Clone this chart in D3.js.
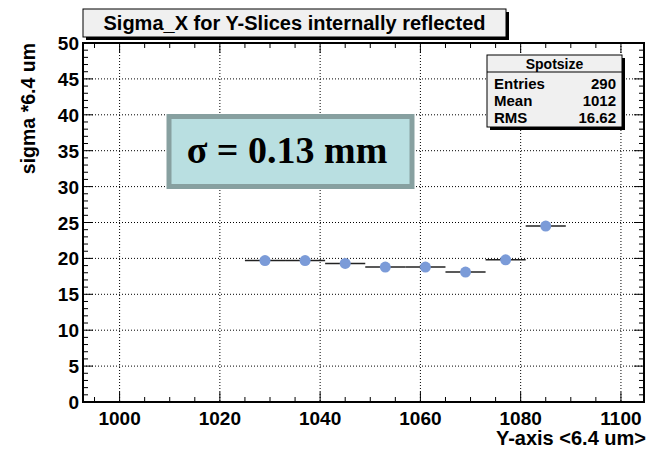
<script src="https://cdn.jsdelivr.net/npm/d3@7"></script>
<body style="margin:0;background:#fff">
<script>
    // data
    var binCenters = [1029, 1037, 1045, 1053, 1061, 1069, 1077, 1085];
    var binWidth = 8;
    var sigmaValues = [19.7, 19.7, 19.3, 18.8, 18.8, 18.1, 19.8, 24.5];
    var xTicks = [1000, 1020, 1040, 1060, 1080, 1100];
    var yTicks = [0, 5, 10, 15, 20, 25, 30, 35, 40, 45, 50];
    var statsRows = [["Entries", "290"], ["Mean", "1012"], ["RMS", "16.62"]];

    var W = 650, H = 449;
    var L = 83, R = 644, T = 43, B = 402;
    var font = "'Liberation Sans', Arial, sans-serif";

    var svg = d3.select("body").append("svg")
        .attr("width", W).attr("height", H)
        .style("display", "block");

    var x = d3.scaleLinear().domain([992.7, 1104.6]).range([L, R]);
    var y = d3.scaleLinear().domain([0, 50]).range([B, T]);

    // frame background
    svg.append("rect").attr("x", L).attr("y", T).attr("width", R - L).attr("height", B - T)
        .attr("fill", "#fff");

    // grid
    svg.selectAll(".gx").data(xTicks).enter().append("line")
        .attr("x1", d => x(d)).attr("x2", d => x(d)).attr("y1", T).attr("y2", B)
        .attr("stroke", "#000").attr("stroke-width", 1).attr("stroke-dasharray", "1,2");
    svg.selectAll(".gy").data(yTicks.slice(1, -1)).enter().append("line")
        .attr("x1", L).attr("x2", R).attr("y1", d => y(d)).attr("y2", d => y(d))
        .attr("stroke", "#000").attr("stroke-width", 1).attr("stroke-dasharray", "1,2");

    // ticks (all four sides, drawn inward)
    var xMinor = d3.range(995, 1105, 5);
    var yMinor = d3.range(0, 51, 1);
    var tickG = svg.append("g").attr("stroke", "#000").attr("stroke-width", 1);
    xMinor.forEach(function (v) {
        var len = (v % 20 === 0) ? 10 : 5;
        tickG.append("line").attr("x1", x(v)).attr("x2", x(v)).attr("y1", B).attr("y2", B - len);
        tickG.append("line").attr("x1", x(v)).attr("x2", x(v)).attr("y1", T).attr("y2", T + len);
    });
    yMinor.forEach(function (v) {
        var len = (v % 5 === 0) ? 10 : 5;
        tickG.append("line").attr("x1", L).attr("x2", L + len).attr("y1", y(v)).attr("y2", y(v));
        tickG.append("line").attr("x1", R).attr("x2", R - len).attr("y1", y(v)).attr("y2", y(v));
    });

    // frame
    svg.append("rect").attr("x", L).attr("y", T).attr("width", R - L).attr("height", B - T)
        .attr("fill", "none").attr("stroke", "#000").attr("stroke-width", 2);

    // tick labels
    svg.selectAll(".xl").data(xTicks).enter().append("text")
        .attr("x", d => x(d)).attr("y", 425)
        .attr("text-anchor", "middle")
        .style("font", "bold 19px " + font)
        .text(d => d);
    svg.selectAll(".yl").data(yTicks).enter().append("text")
        .attr("x", 79).attr("y", d => y(d) + 7)
        .attr("text-anchor", "end")
        .style("font", "bold 19px " + font)
        .text(d => d);

    // axis titles
    svg.append("text").attr("x", R + 2).attr("y", 445)
        .attr("text-anchor", "end")
        .style("font", "bold 20px " + font)
        .text("Y-axis <6.4 um>");
    svg.append("text")
        .attr("transform", "translate(35," + T + ") rotate(-90)")
        .attr("text-anchor", "end")
        .style("font", "bold 19.5px " + font)
        .text("sigma *6.4 um");

    // error bars + markers
    var pts = binCenters.map((c, i) => ({c: c, v: sigmaValues[i]}));
    svg.selectAll(".eb").data(pts).enter().append("line")
        .attr("x1", d => x(d.c - binWidth / 2)).attr("x2", d => x(d.c + binWidth / 2))
        .attr("y1", d => y(d.v)).attr("y2", d => y(d.v))
        .attr("stroke", "#222").attr("stroke-width", 1.5);
    svg.selectAll(".pt").data(pts).enter().append("circle")
        .attr("cx", d => x(d.c)).attr("cy", d => y(d.v)).attr("r", 5.5)
        .attr("fill", "#7b9bd8");

    // title box
    svg.append("rect").attr("x", 86).attr("y", 12).attr("width", 423).attr("height", 28).attr("fill", "#000");
    svg.append("rect").attr("x", 83).attr("y", 9).attr("width", 423).attr("height", 28)
        .attr("fill", "#f0f0f0").attr("stroke", "#000").attr("stroke-width", 1);
    svg.append("text").attr("x", 294.5).attr("y", 30)
        .attr("text-anchor", "middle")
        .style("font", "bold 20px " + font)
        .text("Sigma_X for Y-Slices internally reflected");

    // stats box
    var sx = 487, sy = 55, sw = 135, sh = 72;
    svg.append("rect").attr("x", sx + 3).attr("y", sy + 3).attr("width", sw).attr("height", sh).attr("fill", "#000");
    svg.append("rect").attr("x", sx).attr("y", sy).attr("width", sw).attr("height", sh)
        .attr("fill", "#f0f0f0").attr("stroke", "#000").attr("stroke-width", 1);
    svg.append("line").attr("x1", sx).attr("x2", sx + sw).attr("y1", sy + 17).attr("y2", sy + 17)
        .attr("stroke", "#000");
    svg.append("text").attr("x", sx + sw / 2).attr("y", sy + 14)
        .attr("text-anchor", "middle")
        .style("font", "bold 14px " + font)
        .text("Spotsize");
    statsRows.forEach(function (r, i) {
        svg.append("text").attr("x", sx + 7).attr("y", sy + 34 + i * 17)
            .style("font", "bold 15px " + font).text(r[0]);
        svg.append("text").attr("x", sx + sw - 6).attr("y", sy + 34 + i * 17)
            .attr("text-anchor", "end")
            .style("font", "bold 15px " + font).text(r[1]);
    });

    // sigma annotation box
    svg.append("rect").attr("x", 169).attr("y", 116.5).attr("width", 243).attr("height", 70)
        .attr("fill", "#b9dfe1").attr("stroke", "#87a0a0").attr("stroke-width", 5);
    svg.append("text").attr("x", 287).attr("y", 163)
        .attr("text-anchor", "middle")
        .style("font", "bold 38px 'Liberation Serif', 'Times New Roman', serif")
        .text("σ = 0.13 mm");
</script>
</body>
